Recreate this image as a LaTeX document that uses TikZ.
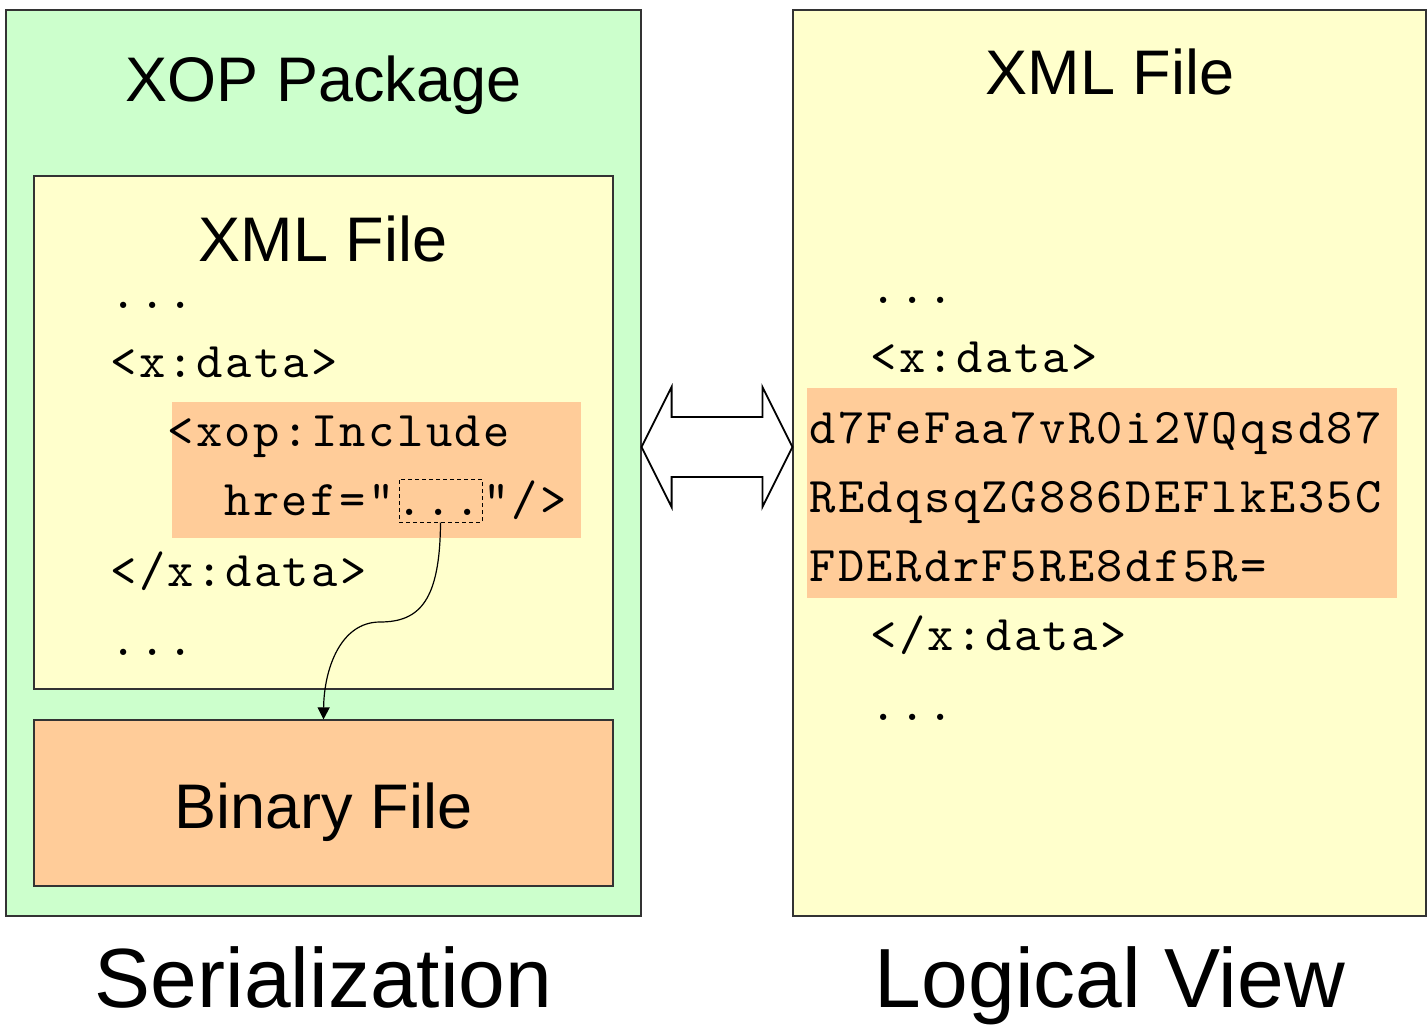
\documentclass[tikz,border=0pt]{standalone}
\usepackage{fontspec}
\setmainfont{Liberation Sans}
\newfontfamily\codefont{lmmono10-regular.otf}[LetterSpace=5]
\usetikzlibrary{fit,calc,arrows.meta}
\definecolor{xgreen}{HTML}{CCFFCC}
\definecolor{xyellow}{HTML}{FFFFCC}
\definecolor{xorange}{HTML}{FFCC99}
\tikzset{
  box/.style={draw=black!80, line width=0.6pt, inner sep=0pt},
  patch/.style={inner sep=0pt, fill=xorange},
  mono/.style={font=\codefont\fontsize{25pt}{29pt}\selectfont, anchor=base west, inner sep=0pt},
  head/.style={font=\fontsize{31.5pt}{36pt}\selectfont, anchor=base, inner sep=0pt},
  big/.style={font=\fontsize{42pt}{48pt}\selectfont, anchor=base, inner sep=0pt},
}
\begin{document}
\begin{tikzpicture}[x=0.5pt,y=-0.5pt]
\useasboundingbox (0,0) rectangle (1427,1027);
% left package
\node[box, fill=xgreen, fit={(6,10) (641,916)}] (xop) {};
\node[head] (xoptitle) at (323.5,102) {XOP Package};
\node[box, fill=xyellow, fit={(34,176) (613,689)}] (xmlL) {};
\node[head] (xmlLtitle) at (323,261) {XML File};
\node[patch, fit={(172,402) (581,538)}] (incl) {};
\node[mono] (l1) at (110,308) {...};
\node[mono] (l2) at (110,377) {<x:data>};
\node[mono] (l3) at (167,446) {<xop:Include};
\node[mono] (l4) at (224,515) {href="..."/>};
\node[mono] (l5) at (110,586) {</x:data>};
\node[mono] (l6) at (110,655) {...};
\node[draw, dashed, dash pattern=on 2pt off 1.5pt, line width=0.5pt, inner sep=0pt, fit={(399,479) (482,522)}] (ref) {};
\node[box, fill=xorange, fit={(34,720) (613,886)}] (bin) {};
\node[head] (bintitle) at (323.5,828) {Binary File};
\draw[line width=0.6pt, -{Triangle[length=6pt,width=6pt]}] (ref.south) .. controls (440,600) and (420,622) .. (380,622) .. controls (340,622) and (324,670) .. (bin.north);
% right logical view
\node[box, fill=xyellow, fit={(793,10) (1426,916)}] (xmlR) {};
\node[head] (xmlRtitle) at (1110,95) {XML File};
\node[patch, fit={(807,388) (1397,598)}] (data) {};
\node[mono] (r1) at (870,303) {...};
\node[mono] (r2) at (870,372) {<x:data>};
\node[mono] (r3) at (809,443) {d7FeFaa7vR0i2VQqsd87};
\node[mono] (r4) at (809,512) {REdqsqZG886DEFlkE35C};
\node[mono] (r5) at (809,581) {FDERdrF5RE8df5R=};
\node[mono] (r6) at (870,650) {</x:data>};
\node[mono] (r7) at (870,720) {...};
% double arrow
\coordinate (la) at ($(xop.east)+(0,-16)$);
\coordinate (ra) at ($(xmlR.west)+(0,-16)$);
\draw[line width=0.9pt, fill=white, line join=miter]
  (la) -- ($(la)+(30,-60)$) -- ($(la)+(30,-30)$) -- ($(ra)+(-30,-30)$) -- ($(ra)+(-30,-60)$)
  -- (ra) -- ($(ra)+(-30,60)$) -- ($(ra)+(-30,30)$) -- ($(la)+(30,30)$) -- ($(la)+(30,60)$) -- cycle;
% captions
\node[big] (ser) at (323.5,1007) {Serialization};
\node[big] (log) at (1110,1007) {Logical View};
\end{tikzpicture}
\end{document}
